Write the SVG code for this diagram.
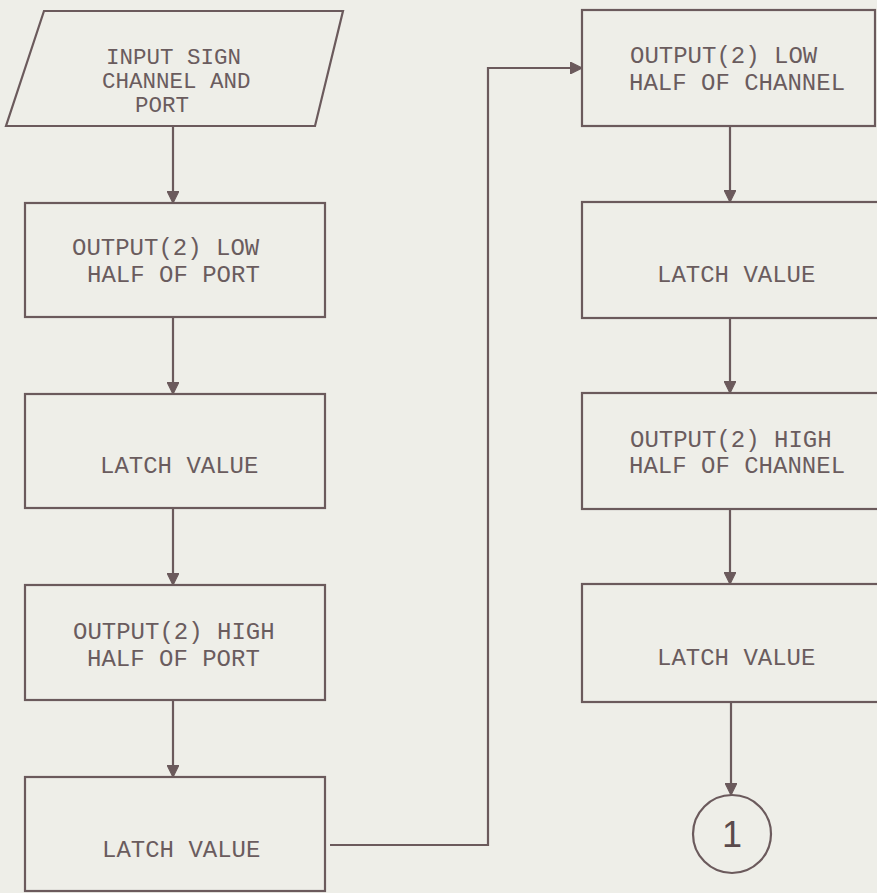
<svg xmlns="http://www.w3.org/2000/svg" width="877" height="893" viewBox="0 0 877 893">
<style>
.shape{fill:none;stroke:#6b5a5c;stroke-width:2.2}
.conn{fill:none;stroke:#6b5a5c;stroke-width:2.2}
.t{font-family:"Liberation Mono","DejaVu Sans Mono",monospace;font-size:24px;fill:#6a5c5e}
.ts{font-family:"Liberation Mono","DejaVu Sans Mono",monospace;font-size:22.5px;fill:#6a5c5e}
.c{font-family:"Liberation Sans",Arial,sans-serif;font-size:36px;fill:#5a4a4c}
</style>
<defs>
<marker id="arr" viewBox="0 0 10 10" refX="10" refY="5" markerWidth="5.5" markerHeight="5.5" orient="auto" markerUnits="strokeWidth">
<path d="M0,0 L10,5 L0,10 Z" fill="#6b5a5c" stroke="#6b5a5c" stroke-width="1"/>
</marker>
</defs>
<rect width="877" height="893" fill="#eeeee8"/>
<g id="n-input">
<polygon class="shape" points="44,11 343,11 315,126 6,126"/>
<text class="ts" x="106" y="64">INPUT SIGN</text>
<text class="ts" x="102" y="88">CHANNEL AND</text>
<text class="ts" x="135" y="112">PORT</text>
</g>
<g id="n-out-low-port">
<rect class="shape" x="25" y="203" width="300" height="114"/>
<text class="t" x="72" y="255">OUTPUT(2) LOW</text>
<text class="t" x="87" y="282">HALF OF PORT</text>
</g>
<g id="n-latch1">
<rect class="shape" x="25" y="394" width="300" height="114"/>
<text class="t" x="100" y="473">LATCH VALUE</text>
</g>
<g id="n-out-high-port">
<rect class="shape" x="25" y="585" width="300" height="115"/>
<text class="t" x="73" y="639">OUTPUT(2) HIGH</text>
<text class="t" x="87" y="666">HALF OF PORT</text>
</g>
<g id="n-latch2">
<rect class="shape" x="25" y="777" width="300" height="114"/>
<text class="t" x="102" y="857">LATCH VALUE</text>
</g>
<g id="n-out-low-chan">
<rect class="shape" x="582" y="10" width="293" height="116"/>
<text class="t" x="630" y="63">OUTPUT(2) LOW</text>
<text class="t" x="629" y="90">HALF OF CHANNEL</text>
</g>
<g id="n-latch3">
<rect class="shape" x="582" y="202" width="300" height="116"/>
<text class="t" x="657" y="282">LATCH VALUE</text>
</g>
<g id="n-out-high-chan">
<rect class="shape" x="582" y="393" width="300" height="116"/>
<text class="t" x="630" y="447">OUTPUT(2) HIGH</text>
<text class="t" x="629" y="473">HALF OF CHANNEL</text>
</g>
<g id="n-latch4">
<rect class="shape" x="582" y="584" width="300" height="118"/>
<text class="t" x="657" y="665">LATCH VALUE</text>
</g>
<g id="n-connector">
<circle class="shape" cx="732" cy="834" r="39"/>
<text class="c" x="732" y="847" text-anchor="middle">1</text>
</g>
<g id="connectors">
<path class="conn" d="M173,126 V203" marker-end="url(#arr)"/>
<path class="conn" d="M173,317 V394" marker-end="url(#arr)"/>
<path class="conn" d="M173,508 V585" marker-end="url(#arr)"/>
<path class="conn" d="M173,700 V777" marker-end="url(#arr)"/>
<path class="conn" d="M330,845 H488 V68 H582" marker-end="url(#arr)"/>
<path class="conn" d="M730,126 V202" marker-end="url(#arr)"/>
<path class="conn" d="M730,318 V393" marker-end="url(#arr)"/>
<path class="conn" d="M730,509 V584" marker-end="url(#arr)"/>
<path class="conn" d="M731,702 V795" marker-end="url(#arr)"/>
</g>
</svg>
